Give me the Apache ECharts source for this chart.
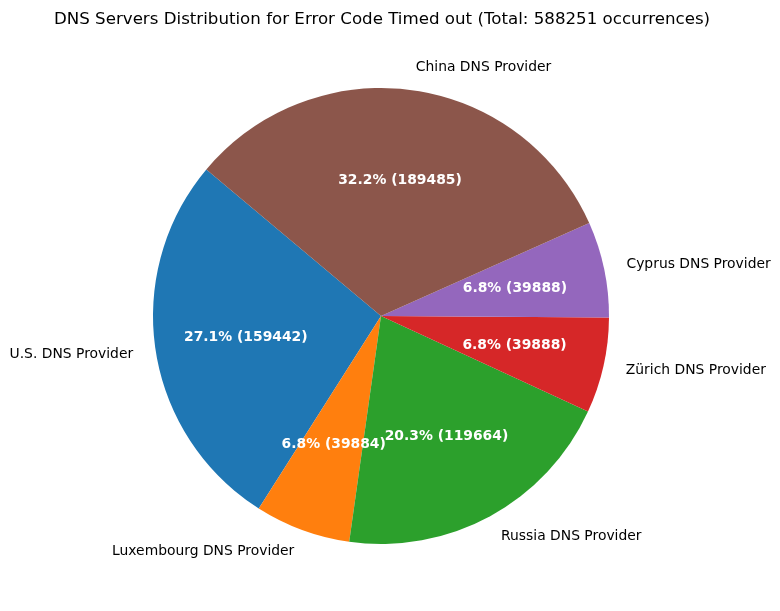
<!DOCTYPE html>
<html>
<head>
<meta charset="utf-8">
<script src="https://cdn.jsdelivr.net/npm/echarts@6/dist/echarts.min.js"></script>
<style>html,body{margin:0;padding:0;background:#fff}#c{width:780px;height:611px}</style>
</head>
<body>
<div id="c"></div>
<script>
const categories = ["U.S. DNS Provider", "Luxembourg DNS Provider", "Russia DNS Provider", "Zürich DNS Provider", "Cyprus DNS Provider", "China DNS Provider"];
const values = [159442, 39884, 119664, 39888, 39888, 189485];
const colors = ["#1f77b4", "#ff7f0e", "#2ca02c", "#d62728", "#9467bd", "#8c564b"];
const titleText = "DNS Servers Distribution for Error Code Timed out (Total: 588251 occurrences)";

const R = 228;
const center = [381, 316];
const font = "DejaVu Sans";
const data = categories.map((n, i) => ({ name: n, value: values[i], itemStyle: { color: colors[i] } }));

const chart = echarts.init(document.getElementById('c'), null, { renderer: 'canvas' });
chart.setOption({
  animation: false,
  backgroundColor: '#ffffff',
  title: {
    text: titleText,
    left: 377, top: 6, textAlign: 'center',
    textStyle: { fontFamily: font, fontSize: 16.67, fontWeight: 'normal', color: '#000' }
  },
  series: [
    {
      type: 'pie',
      center: center,
      radius: [0, R],
      startAngle: 140,
      clockwise: false,
      avoidLabelOverlap: false,
      silent: true,
      data: data,
      label: {
        show: true, position: 'outside', formatter: '{b}',
        fontFamily: font, fontSize: 13.89, color: '#000', distanceToLabelLine: 0,
        padding: [3, 0, 0, 0]
      },
      labelLine: { show: false, length: R * 0.1, length2: 0 },
      labelLayout: { hideOverlap: false }
    },
    {
      type: 'pie',
      center: center,
      radius: [R * 0.2 - 6, R],
      startAngle: 140,
      clockwise: false,
      avoidLabelOverlap: false,
      silent: true,
      percentPrecision: 1,
      data: categories.map((n, i) => ({ name: n, value: values[i], itemStyle: { color: 'rgba(0,0,0,0)' } })),
      label: {
        show: true, position: 'inside', formatter: '{d}% ({c})',
        fontFamily: font, fontSize: 13.89, fontWeight: 'bold', color: '#fff',
        padding: [3, 0, 0, 0]
      },
      labelLine: { show: false },
      labelLayout: { hideOverlap: false }
    }
  ]
});
</script>
</body>
</html>
